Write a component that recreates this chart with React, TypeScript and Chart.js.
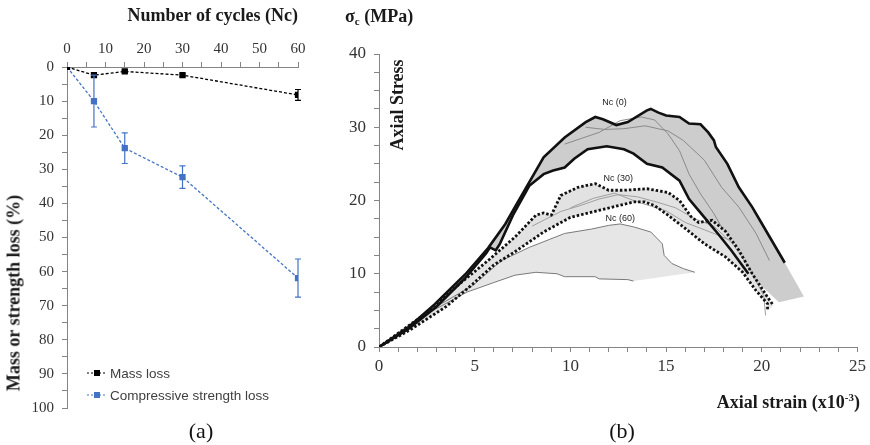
import React, { useEffect, useRef } from 'react';
import { Chart, registerables } from 'chart.js';

Chart.register(...registerables);

// ---------------- Panel (a) data ----------------
const CYCLES = [0, 7, 15, 30, 60];
const MASS_LOSS = [0, 2.4, 1.3, 2.4, 8.2];
const MASS_ERR = [0, 0.4, 0.3, 0.4, 1.6];
const STRENGTH_LOSS = [0, 10, 23.8, 32.3, 61.9];
const STRENGTH_ERR = [0, 7.6, 4.5, 3.3, 5.6];
const SERIES_A_LABELS = ['Mass loss', 'Compressive strength loss'];
const A_X_TICK_LABELS = [0, 10, 20, 30, 40, 50, 60];
const A_Y_TICK_LABELS = [0, 10, 20, 30, 40, 50, 60, 70, 80, 90, 100];

// ---------------- Panel (b) data (strain x10^-3, stress MPa) ----------------
const N0_UP_X = [0, 1.5, 2.9, 4.5, 5.7, 6.6, 7.1, 8.6, 9.7, 10.8, 11.3, 11.7, 12.4, 13.0, 14.0, 14.2, 14.6, 15.0, 15.7, 16.2, 16.8, 17.2, 17.5, 17.6, 18.2, 18.8, 19.5, 19.9, 21.2];
const N0_UP_Y = [0, 2.6, 5.8, 9.9, 13.5, 16.8, 19.1, 25.9, 28.6, 30.7, 31.4, 31.1, 30.3, 30.7, 32.3, 32.5, 32.0, 31.6, 31.4, 30.5, 30.4, 29.3, 28.2, 27.3, 25.0, 21.8, 19.1, 17.3, 11.5];
const N0_LO_X = [0, 1.5, 3.0, 4.5, 5.6, 5.8, 6.1, 6.3, 7.0, 7.85, 8.6, 9.1, 9.7, 10.2, 10.9, 11.9, 12.8, 13.3, 14.0, 14.8, 15.7, 16.2, 17.0, 17.7, 18.4, 19.3];
const N0_LO_Y = [0, 2.4, 5.5, 9.4, 12.8, 13.6, 13.2, 14.0, 18.0, 22.0, 23.6, 24.1, 24.5, 25.7, 27.0, 27.4, 27.0, 26.4, 25.0, 24.5, 22.7, 20.2, 17.7, 15.5, 13.2, 10.0];
const N0_TAIL_X = [22.2, 20.9];
const N0_TAIL_Y = [6.9, 6.1];
const N0_THIN1_X = [10.8, 11.8, 12.8, 13.9, 15.1, 15.9, 17.0, 17.9, 18.8, 19.7, 20.4];
const N0_THIN1_Y = [30.0, 29.7, 29.8, 30.2, 29.5, 28.2, 25.5, 21.8, 19.1, 15.5, 11.8];
const N0_THIN2_X = [9.7, 11.5, 12.6, 13.7, 14.4, 15.1, 15.7, 16.2, 16.8, 17.5, 18.2, 18.8];
const N0_THIN2_Y = [27.7, 29.3, 30.9, 31.4, 31.0, 29.1, 26.8, 23.6, 20.9, 18.2, 15.0, 12.3];

const N30_UP_X = [0, 2.4, 4.2, 5.7, 7.1, 8.2, 8.6, 9.0, 9.5, 10.4, 11.3, 12.0, 12.8, 14.0, 15.1, 15.7, 16.3, 16.7, 17.4, 18.1, 18.8, 19.5, 20.3, 20.6];
const N30_UP_Y = [0, 4.5, 8.6, 11.8, 15.0, 18.0, 18.3, 18.0, 20.7, 21.8, 22.3, 21.4, 21.4, 21.6, 21.1, 20.0, 17.8, 17.0, 17.3, 15.8, 13.2, 10.0, 6.8, 5.7];
const N30_LO_X = [0, 1.6, 3.5, 4.9, 6.0, 7.1, 8.6, 10.0, 11.1, 12.2, 13.3, 13.9, 14.4, 15.1, 15.9, 17.0, 18.1, 19.0, 19.7, 20.3, 20.3];
const N30_LO_Y = [0, 2.3, 5.5, 8.6, 11.2, 13.0, 15.7, 17.7, 18.4, 19.1, 19.8, 19.8, 19.3, 18.0, 16.4, 14.1, 12.3, 10.2, 7.7, 5.9, 5.0];
const N30_THIN1_X = [8.0, 9.5, 10.5, 11.5, 12.5, 13.5, 14.5, 15.5, 16.5, 17.5, 18.5, 19.3, 20.1, 20.2];
const N30_THIN1_Y = [16.5, 18.5, 19.3, 20.2, 20.8, 20.5, 19.8, 19.0, 17.5, 16.5, 14.0, 11.0, 7.0, 4.3];
const N30_THIN2_X = [10.0, 11.2, 12.3, 13.5, 15.0, 16.0, 17.5, 18.4];
const N30_THIN2_Y = [19.0, 20.3, 21.0, 19.8, 18.6, 17.0, 15.5, 14.5];

const N60_UP_X = [0, 2.4, 4.9, 6.4, 7.85, 9.7, 11.1, 12.0, 12.6, 13.3, 14.2, 14.8, 14.9, 15.3, 15.9, 16.5];
const N60_UP_Y = [0, 4.6, 8.4, 11.8, 13.6, 15.5, 16.1, 16.6, 16.8, 16.4, 15.7, 14.1, 12.5, 11.4, 10.7, 10.2];
const N60_LO_X = [0, 2.4, 4.6, 6.0, 7.1, 8.2, 9.3, 9.7, 11.3, 11.5, 13.0, 13.3];
const N60_LO_Y = [0, 4.4, 7.5, 8.8, 9.8, 10.2, 10.0, 9.6, 9.6, 9.3, 9.2, 9.0];

const NC_LABELS = ['Nc (0)', 'Nc (30)', 'Nc (60)'];
const NC_LABEL_X = [12.3, 12.5, 12.6];
const NC_LABEL_Y = [33.4, 23.0, 17.5];

const SERIF = '"Liberation Serif", "Times New Roman", serif';
const SANS = '"Liberation Sans", Arial, sans-serif';
const BLUE = '#4472C4';
const AXIS_GRAY = '#858585';

function pts(xs: number[], ys: number[]) {
  return xs.map((x, i) => ({ x, y: ys[i] }));
}
function rev<T>(a: T[]): T[] {
  return a.slice().reverse();
}

const errorBarPlugin = {
  id: 'errorBars',
  afterDatasetsDraw(chart: any) {
    const { ctx } = chart;
    const ys = chart.scales.y;
    chart.data.datasets.forEach((ds: any, i: number) => {
      if (!ds.errors) return;
      const meta = chart.getDatasetMeta(i);
      ctx.save();
      ctx.strokeStyle = ds.errorColor;
      ctx.lineWidth = 1.2;
      meta.data.forEach((el: any, j: number) => {
        const e = ds.errors[j];
        if (!e) return;
        const v = ds.data[j].y;
        const x = el.x;
        const y1 = ys.getPixelForValue(v - e);
        const y2 = ys.getPixelForValue(v + e);
        ctx.beginPath();
        ctx.moveTo(x, y1); ctx.lineTo(x, y2);
        ctx.moveTo(x - 3, y1); ctx.lineTo(x + 3, y1);
        ctx.moveTo(x - 3, y2); ctx.lineTo(x + 3, y2);
        ctx.stroke();
      });
      ctx.restore();
    });
  },
};

const legendPlugin = {
  id: 'insideLegend',
  afterDraw(chart: any) {
    const { ctx, chartArea } = chart;
    ctx.save();
    chart.data.datasets.forEach((ds: any, i: number) => {
      const y = chartArea.bottom - 35 + i * 22;
      const x0 = chartArea.left + 20;
      ctx.strokeStyle = ds.borderColor;
      ctx.lineWidth = 1.2;
      ctx.setLineDash([2, 2]);
      ctx.beginPath();
      ctx.moveTo(x0, y); ctx.lineTo(x0 + 20, y);
      ctx.stroke();
      ctx.setLineDash([]);
      ctx.fillStyle = ds.borderColor;
      ctx.fillRect(x0 + 7, y - 3, 6, 6);
      ctx.fillStyle = '#404040';
      ctx.font = `13.5px ${SANS}`;
      ctx.textBaseline = 'middle';
      ctx.textAlign = 'left';
      ctx.fillText(ds.label, x0 + 23, y + 1);
    });
    ctx.restore();
  },
};

const ncLabelPlugin = {
  id: 'ncLabels',
  afterDatasetsDraw(chart: any) {
    const { ctx } = chart;
    const { x, y } = chart.scales;
    ctx.save();
    ctx.font = `9px ${SANS}`;
    ctx.fillStyle = '#222';
    ctx.textAlign = 'center';
    ctx.textBaseline = 'middle';
    NC_LABELS.forEach((t, i) => {
      ctx.fillText(t, x.getPixelForValue(NC_LABEL_X[i]), y.getPixelForValue(NC_LABEL_Y[i]));
    });
    ctx.restore();
  },
};

function lineDs(data: any[], color: string, width: number, order: number, dash: number[] = []) {
  return {
    data,
    borderColor: color,
    borderWidth: width,
    borderDash: dash,
    backgroundColor: color,
    pointRadius: 0,
    pointHoverRadius: 0,
    fill: false,
    tension: 0,
    order,
  };
}
function bandDs(data: any[], color: string, order: number) {
  return {
    data,
    borderColor: 'rgba(0,0,0,0)',
    borderWidth: 1,
    backgroundColor: color,
    pointRadius: 0,
    pointHoverRadius: 0,
    fill: 'shape',
    tension: 0,
    order,
  };
}

export default function App() {
  const refA = useRef<HTMLCanvasElement>(null);
  const refB = useRef<HTMLCanvasElement>(null);

  useEffect(() => {
    const chartA = new Chart(refA.current as HTMLCanvasElement, {
      type: 'line',
      data: {
        datasets: [
          {
            label: SERIES_A_LABELS[0],
            data: pts(CYCLES, MASS_LOSS),
            borderColor: '#000000',
            backgroundColor: '#000000',
            borderWidth: 1.3,
            borderDash: [3, 2],
            pointStyle: 'rect',
            pointRadius: 3.5,
            tension: 0,
            errors: MASS_ERR,
            errorColor: '#000000',
          } as any,
          {
            label: SERIES_A_LABELS[1],
            data: pts(CYCLES, STRENGTH_LOSS),
            borderColor: BLUE,
            backgroundColor: BLUE,
            borderWidth: 1.3,
            borderDash: [3, 2],
            pointStyle: 'rect',
            pointRadius: 3.5,
            tension: 0,
            errors: STRENGTH_ERR,
            errorColor: BLUE,
          } as any,
        ],
      },
      options: {
        animation: false,
        responsive: true,
        maintainAspectRatio: false,
        events: [],
        layout: { padding: { left: 0, top: 0, right: 32, bottom: 37 } },
        plugins: { legend: { display: false }, tooltip: { enabled: false } },
        scales: {
          x: {
            type: 'linear',
            position: 'top',
            min: 0,
            max: 60,
            afterFit: (s: any) => { s.height = 67; },
            ticks: {
              stepSize: 5,
              autoSkip: false,
              maxRotation: 0,
              minRotation: 0,
              padding: 4,
              color: '#333333',
              font: { family: SERIF, size: 15 },
              callback: (v: any) => (A_X_TICK_LABELS.includes(v) ? String(v) : ''),
            },
            grid: { drawOnChartArea: false, drawTicks: true, tickLength: 5, color: AXIS_GRAY },
            border: { display: true, color: AXIS_GRAY },
            title: {
              display: true,
              text: 'Number of cycles (Nc)',
              align: 'end',
              color: '#1a1a1a',
              padding: { top: 6, bottom: 0 },
              font: { family: SERIF, size: 18, weight: 'bold' },
            },
          },
          y: {
            type: 'linear',
            reverse: true,
            min: 0,
            max: 100,
            afterFit: (s: any) => { s.width = 67; },
            ticks: {
              stepSize: 5,
              autoSkip: false,
              padding: 8,
              color: '#333333',
              font: { family: SERIF, size: 15 },
              callback: (v: any) => (A_Y_TICK_LABELS.includes(v) ? String(v) : ''),
            },
            grid: { drawOnChartArea: false, drawTicks: true, tickLength: 5, color: AXIS_GRAY },
            border: { display: true, color: AXIS_GRAY },
          },
        },
      } as any,
      plugins: [errorBarPlugin, legendPlugin],
    });

    const n0Band = [
      ...pts(N0_UP_X, N0_UP_Y),
      ...pts(N0_TAIL_X, N0_TAIL_Y),
      ...rev(pts(N0_LO_X, N0_LO_Y)),
    ];
    const n30Band = [...pts(N30_UP_X, N30_UP_Y), ...rev(pts(N30_LO_X, N30_LO_Y))];
    const n60Band = [...pts(N60_UP_X, N60_UP_Y), ...rev(pts(N60_LO_X, N60_LO_Y))];

    const chartB = new Chart(refB.current as HTMLCanvasElement, {
      type: 'line',
      data: {
        datasets: [
          bandDs(n0Band, '#cdcdcd', 100),
          lineDs(pts(N0_THIN1_X, N0_THIN1_Y), '#8a8a8a', 1, 90),
          lineDs(pts(N0_THIN2_X, N0_THIN2_Y), '#8a8a8a', 1, 90),
          bandDs(n30Band, '#e2e2e2', 80),
          bandDs(n60Band, '#e6e6e6', 75),
          lineDs(pts(N30_THIN1_X, N30_THIN1_Y), '#a0a0a0', 1, 70),
          lineDs(pts(N30_THIN2_X, N30_THIN2_Y), '#a0a0a0', 1, 70),
          lineDs(pts(N60_UP_X, N60_UP_Y), '#7a7a7a', 1, 60),
          lineDs(pts(N60_LO_X, N60_LO_Y), '#7a7a7a', 1, 60),
          lineDs(pts(N0_UP_X, N0_UP_Y), '#111111', 2.6, 20),
          lineDs(pts(N0_LO_X, N0_LO_Y), '#111111', 2.6, 20),
          lineDs(pts(N30_UP_X, N30_UP_Y), '#111111', 2.8, 10, [2.5, 2]),
          lineDs(pts(N30_LO_X, N30_LO_Y), '#111111', 2.8, 10, [2.5, 2]),
        ] as any,
      },
      options: {
        animation: false,
        responsive: true,
        maintainAspectRatio: false,
        events: [],
        layout: { padding: { left: 0, top: 54, right: 8, bottom: 0 } },
        plugins: { legend: { display: false }, tooltip: { enabled: false } },
        scales: {
          x: {
            type: 'linear',
            min: 0,
            max: 25,
            afterFit: (s: any) => { s.height = 98; },
            ticks: {
              stepSize: 1,
              autoSkip: false,
              maxRotation: 0,
              minRotation: 0,
              padding: 4,
              color: '#333333',
              font: { family: SERIF, size: 17 },
              callback: (v: any) => (v % 5 === 0 ? String(v) : ''),
            },
            grid: { drawOnChartArea: false, drawTicks: true, tickLength: 5, color: AXIS_GRAY },
            border: { display: true, color: AXIS_GRAY },
          },
          y: {
            type: 'linear',
            min: 0,
            max: 40,
            afterFit: (s: any) => { s.width = 49; },
            ticks: {
              stepSize: 2.5,
              autoSkip: false,
              padding: 8,
              color: '#333333',
              font: { family: SERIF, size: 17 },
              callback: (v: any) => (v % 10 === 0 ? String(v) : ''),
            },
            grid: { drawOnChartArea: false, drawTicks: true, tickLength: 5, color: AXIS_GRAY },
            border: { display: true, color: AXIS_GRAY },
          },
        },
      } as any,
      plugins: [ncLabelPlugin],
    });

    return () => {
      chartA.destroy();
      chartB.destroy();
    };
  }, []);

  const bold18 = { fontFamily: SERIF, fontSize: 18, fontWeight: 'bold' as const, color: '#1a1a1a', whiteSpace: 'nowrap' as const };

  return (
    <div style={{ position: 'fixed', left: 0, top: 0, width: 870, height: 445, background: '#ffffff', overflow: 'hidden' }}>
      <div style={{ position: 'absolute', left: 0, top: 0, width: 330, height: 445 }}>
        <canvas ref={refA} />
      </div>
      <div style={{ position: 'absolute', left: 330, top: 0, width: 540, height: 445 }}>
        <canvas ref={refB} />
      </div>
      <div style={{ ...bold18, position: 'absolute', left: 14, top: 293, transform: 'translate(-50%, -50%) rotate(-90deg)' }}>
        Mass or strength loss (%)
      </div>
      <div style={{ ...bold18, position: 'absolute', left: 345, top: 6 }}>
        σ<span style={{ fontSize: 11, verticalAlign: -3 }}>c</span> (MPa)
      </div>
      <div style={{ ...bold18, position: 'absolute', left: 397, top: 105, transform: 'translate(-50%, -50%) rotate(-90deg)' }}>
        Axial Stress
      </div>
      <div style={{ ...bold18, position: 'absolute', right: 10, top: 391 }}>
        Axial strain (x10<span style={{ fontSize: 11, verticalAlign: 7 }}>-3</span>)
      </div>
      <div style={{ position: 'absolute', left: 201, top: 431, transform: 'translate(-50%, -50%)', fontFamily: SERIF, fontSize: 22, color: '#111' }}>
        (a)
      </div>
      <div style={{ position: 'absolute', left: 622, top: 431, transform: 'translate(-50%, -50%)', fontFamily: SERIF, fontSize: 22, color: '#111' }}>
        (b)
      </div>
    </div>
  );
}
